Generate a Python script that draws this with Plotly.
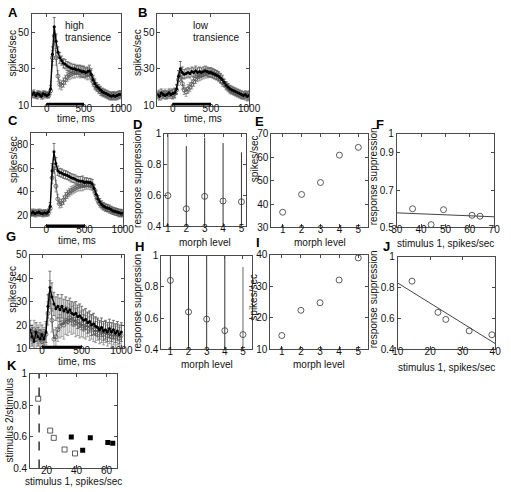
import plotly.graph_objects as go

# ---------------- data ----------------
t = [-200, -175, -150, -125, -100, -75, -50, -25, 0, 25, 50, 75, 100, 125, 150, 175,
     200, 225, 250, 275, 300, 325, 350, 375, 400, 425, 450, 475, 500, 525, 550, 575,
     600, 625, 650, 675, 700, 725, 750, 775, 800, 825, 850, 875, 900, 925, 950, 975, 1000]

# Panel A (high transience cell)
A_s1 = [16, 17, 15.5, 16.5, 16, 15, 16.5, 16, 15.5, 16, 19, 38, 53, 45, 39, 36,
        34.5, 33, 32.5, 31.5, 31, 30.5, 30, 30, 29.5, 29.5, 29, 28.5, 28.5, 28, 28.5, 29,
        27, 24, 22, 20.5, 19.5, 18.5, 17.5, 17, 16.5, 16, 15.5, 15, 15.5, 15, 15.5, 16, 16]
A_s1_err = [1.5, 1.5, 1.5, 1.5, 1.5, 1.5, 1.5, 1.5, 1.5, 1.5, 2, 4, 5, 4, 3, 3,
            2.5, 2.5, 2.5, 2.5, 2.5, 2.5, 2.5, 2.5, 2.5, 2.5, 3, 3, 3, 2.5, 2.5, 3,
            3, 2.5, 2.5, 2, 2, 2, 2, 2, 2, 2, 2, 2, 2, 2, 2, 2, 2]
A_s2 = [16.5, 15.5, 16, 15, 16.5, 16, 15, 16.5, 16, 15.5, 18, 36, 48, 36, 26, 21.5,
        21, 22.5, 24, 25.5, 26.5, 27, 27.5, 28, 28.5, 28.5, 28, 28.5, 28, 27.5, 27, 27.5,
        26, 23, 21, 19.5, 18.5, 17.5, 17, 16.5, 16, 15.5, 15, 15.5, 15, 15.5, 15, 15.5, 16]
A_s2_err = [1.5, 1.5, 1.5, 1.5, 1.5, 1.5, 1.5, 1.5, 1.5, 1.5, 2, 4, 5, 4, 3, 2.5,
            2.5, 2.5, 2.5, 2.5, 2.5, 2.5, 2.5, 3, 3, 3, 3, 3, 3, 3, 3, 3,
            3, 2.5, 2.5, 2, 2, 2, 2, 2, 2, 2, 2, 2, 2, 2, 2, 2, 2]

# Panel B (low transience cell)
B_s1 = [16, 15, 17, 16, 15.5, 16, 17, 16, 16.5, 17, 19, 26, 30, 28, 27, 27.5,
        28, 27.5, 28.5, 28, 29, 28, 28.5, 28, 28.5, 29, 28.5, 28, 28, 27.5, 27, 26.5,
        26, 25, 24, 22.5, 21, 20, 19, 18.5, 18, 17.5, 17, 16.5, 16, 15.5, 16, 15, 15.5]
B_s1_err = [2, 2, 2, 2, 2, 2, 2, 2, 2.5, 2.5, 2.5, 3, 4, 3, 2.5, 2.5,
            2.5, 2.5, 2.5, 2.5, 2.5, 2.5, 2.5, 2.5, 2.5, 2.5, 2.5, 2.5, 2.5, 2.5, 2.5, 2.5,
            2.5, 2.5, 2.5, 2, 2, 2, 2, 2, 2, 2, 2, 2, 2, 2, 2, 2.5, 2.5]
B_s2 = [15.5, 16.5, 15, 16, 17, 15.5, 16, 17, 16, 16.5, 18.5, 24, 27, 22, 18.5, 17.5,
        19, 20, 21.5, 23, 24.5, 25.5, 26, 26.5, 27, 27.5, 27.5, 28, 28, 27.5, 27, 26.5,
        25.5, 24.5, 23, 22, 20.5, 19.5, 18.5, 18, 17.5, 17, 16.5, 16, 15.5, 15.5, 15, 15.5, 15]
B_s2_err = [2, 2, 2, 2, 2, 2, 2, 2, 2.5, 2.5, 2.5, 3, 3.5, 3, 2.5, 2.5,
            2.5, 2.5, 2.5, 2.5, 2.5, 2.5, 2.5, 2.5, 2.5, 2.5, 2.5, 2.5, 2.5, 2.5, 2.5, 2.5,
            2.5, 2.5, 2.5, 2, 2, 2, 2, 2, 2, 2, 2, 2, 2, 2, 2, 2, 2]

# Panel C (population, high transience)
C_s1 = [22, 23, 21.5, 22.5, 23, 22, 21.5, 22.5, 22, 23, 28, 58, 74, 64, 58, 56.5,
        56, 55, 54.5, 54, 53, 52, 51.5, 51, 50, 49.5, 49, 49, 48, 48.5, 48, 48,
        47, 43, 38, 34, 31.5, 29.5, 28, 27, 26.5, 26, 25, 24, 23.5, 23, 22.5, 22, 22]
C_s1_err = [2.5, 2.5, 2.5, 2.5, 2.5, 2.5, 2.5, 2.5, 2.5, 2.5, 3, 6, 7, 5, 4, 3.5,
            3.5, 3.5, 3.5, 3.5, 3.5, 3.5, 3.5, 3.5, 3.5, 3.5, 4, 4.5, 4, 3.5, 3.5, 3.5,
            3.5, 3.5, 3.5, 3, 3, 3, 3, 3, 3, 3, 3, 3, 3, 3, 3, 3, 3]
C_s2 = [23, 22, 23, 21.5, 22, 23, 22.5, 21.5, 22.5, 22, 26, 52, 62, 45, 34, 30,
        30.5, 33, 36, 38, 39.5, 41, 42, 43, 44, 44.5, 45, 45.5, 46, 46, 46, 45.5,
        45, 42, 37, 33, 30, 28.5, 27.5, 26.5, 26, 25, 24.5, 24, 23.5, 23, 22, 22.5, 22]
C_s2_err = [2.5, 2.5, 2.5, 2.5, 2.5, 2.5, 2.5, 2.5, 2.5, 2.5, 3, 5, 6, 5, 4, 3.5,
            3.5, 3.5, 3.5, 3.5, 3.5, 3.5, 3.5, 3.5, 3.5, 3.5, 4, 4.5, 4, 3.5, 3.5, 3.5,
            3.5, 3.5, 3.5, 3, 3, 3, 3, 3, 3, 3, 3, 3, 3, 3, 3, 3, 3]

# Panel G (population, low transience)
G_s1 = [16, 14, 18, 15, 13, 17, 15, 14, 16, 14, 17, 28, 36, 32, 29, 27,
        28, 26.5, 28, 26, 27, 25.5, 26.5, 25, 24.5, 25, 23.5, 24, 23, 22, 22.5, 21,
        21.5, 20, 20.5, 19.5, 19, 18, 19, 17.5, 18, 17, 18.5, 17, 18, 16.5, 17.5, 16, 17]
G_s1_err = [4, 4, 4, 4, 4, 4, 4, 4, 4, 4, 4.5, 5, 7, 6, 5, 5,
            5, 5, 5, 5, 5, 5, 5, 5, 5, 5, 5, 5, 5, 4.5, 4.5, 4.5,
            4.5, 4.5, 4.5, 4, 4, 4, 4, 4, 4, 4, 4, 4, 4, 4, 4, 4, 4]
G_s2 = [15, 17, 14, 16, 18, 14, 16, 17, 13, 15, 16, 25, 33, 22, 14, 15,
        18, 19.5, 21, 20, 22, 21.5, 23, 22, 22.5, 21, 21.5, 20, 20.5, 19.5, 19, 20,
        18.5, 19, 18, 17, 18, 16.5, 17, 16, 17, 15.5, 16.5, 15, 16, 15, 16, 14.5, 15.5]
G_s2_err = [4, 4, 4, 4, 4, 4, 4, 4, 4, 4, 4.5, 5, 6, 5, 4, 4,
            5, 5, 6, 6, 6, 6, 6, 6, 6, 6, 6, 5.5, 5.5, 5, 5, 5,
            5, 5, 5, 4.5, 4.5, 4.5, 4.5, 4.5, 4.5, 4.5, 4.5, 4.5, 4.5, 4.5, 4.5, 4.5, 4.5]

stim_on = [0, 500]          # stimulus presentation period, ms

morph = [1, 2, 3, 4, 5]
# high-transience population (D, E, F)
D_supp = [0.60, 0.515, 0.595, 0.565, 0.56]
D_err = [0.45, 0.405, 0.38, 0.375, 0.32]
E_rate = [36.5, 44.1, 49.2, 60.9, 64.2]
F_fit_x = [30, 70]
F_fit_y = [0.578, 0.557]
# low-transience population (H, I, J)
H_supp = [0.842, 0.64, 0.594, 0.52, 0.495]
H_err = [0.6, 0.6, 0.6, 0.6, 0.433]
I_rate = [14.4, 22.4, 24.8, 32.0, 39.0]
J_fit_x = [10, 40]
J_fit_y = [0.83, 0.438]
K_threshold = [15, 15]
K_thr_y = [0.4, 1.0]

# ---------------- layout helpers ----------------
W, H = 511, 492
FONT = "Liberation Sans"
AX = "#4a4a4a"

boxes = {  # left, right, top, bottom in pixels
    'A': (27, 119, 8, 102), 'B': (157, 252, 8, 102),
    'C': (26, 121, 130, 227), 'D': (164, 249, 131, 226),
    'E': (275, 375, 131, 227), 'F': (405, 506, 131, 227),
    'G': (25, 122, 255, 351), 'H': (161, 255, 256, 352),
    'I': (274, 375, 255, 352), 'J': (406, 507, 257, 352),
    'K': (25, 115, 377, 474),
}
order = ['A', 'B', 'C', 'D', 'E', 'F', 'G', 'H', 'I', 'J', 'K']
axn = {p: (i + 1) for i, p in enumerate(order)}

fig = go.Figure()


def xa(p):
    return 'x' if axn[p] == 1 else f'x{axn[p]}'


def ya(p):
    return 'y' if axn[p] == 1 else f'y{axn[p]}'


def add_time(p, s1, e1, s2, e2):
    fig.add_trace(go.Scatter(x=t, y=s2, mode='lines+markers', xaxis=xa(p), yaxis=ya(p),
                             line=dict(color='#444444', width=0.8),
                             marker=dict(symbol='circle-open', size=4, color='#555555', line=dict(width=0.8)),
                             error_y=dict(type='data', array=e2, color='#8c8c8c', thickness=0.8, width=1.5),
                             showlegend=False))
    fig.add_trace(go.Scatter(x=t, y=s1, mode='lines+markers', xaxis=xa(p), yaxis=ya(p),
                             line=dict(color='#000000', width=1.3),
                             marker=dict(symbol='circle', size=3, color='#000000'),
                             error_y=dict(type='data', array=e1, color='#555555', thickness=0.8, width=1.5),
                             showlegend=False))
    fig.add_shape(type='rect', xref=xa(p), yref=ya(p) + ' domain', x0=stim_on[0], x1=stim_on[1],
                  y0=0.0, y1=0.03, fillcolor='black', line=dict(width=0))


add_time('A', A_s1, A_s1_err, A_s2, A_s2_err)
add_time('B', B_s1, B_s1_err, B_s2, B_s2_err)
add_time('C', C_s1, C_s1_err, C_s2, C_s2_err)
add_time('G', G_s1, G_s1_err, G_s2, G_s2_err)


def add_supp(p, vals, errs, gray_idx):
    for i in range(len(morph)):
        gray = i in gray_idx
        fig.add_trace(go.Scatter(x=[morph[i]], y=[vals[i]], mode='markers', xaxis=xa(p), yaxis=ya(p),
                                 marker=dict(symbol='circle-open', size=6, color='#333333', line=dict(width=0.8)),
                                 error_y=dict(type='data', array=[errs[i]],
                                              color='#a0a0a0' if gray else '#333333',
                                              thickness=1.6 if gray else 1, width=0),
                                 showlegend=False))


add_supp('D', D_supp, D_err, [0])
add_supp('H', H_supp, H_err, [4])

for p, vals in (('E', E_rate), ('I', I_rate)):
    fig.add_trace(go.Scatter(x=morph, y=vals, mode='markers', xaxis=xa(p), yaxis=ya(p),
                             marker=dict(symbol='circle-open', size=6, color='#333333', line=dict(width=0.8)),
                             showlegend=False))

for p, xs, ys, fx, fy in (('F', E_rate, D_supp, F_fit_x, F_fit_y), ('J', I_rate, H_supp, J_fit_x, J_fit_y)):
    fig.add_trace(go.Scatter(x=fx, y=fy, mode='lines', xaxis=xa(p), yaxis=ya(p),
                             line=dict(color='#444444', width=1), showlegend=False))
    fig.add_trace(go.Scatter(x=xs, y=ys, mode='markers', xaxis=xa(p), yaxis=ya(p),
                             marker=dict(symbol='circle-open', size=6, color='#333333', line=dict(width=0.8)),
                             showlegend=False))

fig.add_trace(go.Scatter(x=K_threshold, y=K_thr_y, mode='lines', xaxis=xa('K'), yaxis=ya('K'),
                         line=dict(color='black', width=1.2, dash='dash'), showlegend=False))
fig.add_trace(go.Scatter(x=I_rate, y=H_supp, mode='markers', xaxis=xa('K'), yaxis=ya('K'),
                         marker=dict(symbol='square-open', size=5, color='#333333', line=dict(width=0.8)),
                         showlegend=False))
fig.add_trace(go.Scatter(x=E_rate, y=D_supp, mode='markers', xaxis=xa('K'), yaxis=ya('K'),
                         marker=dict(symbol='square', size=5, color='black'),
                         showlegend=False))

# axis settings: (xrange, xticks, yrange, yticks)
axcfg = {
    'A': ([-200, 1000], [0, 500, 1000], [10, 60], [10, 30, 50]),
    'B': ([-200, 1000], [0, 500, 1000], [10, 60], [10, 30, 50]),
    'C': ([-200, 1000], [0, 500, 1000], [10, 90], [20, 40, 60, 80]),
    'D': ([0.8, 5.26], [1, 2, 3, 4, 5], [0.4, 1.0], [0.4, 0.6, 0.8, 1]),
    'E': ([0.4, 5.5], [1, 2, 3, 4, 5], [30, 70], [30, 40, 50, 60, 70]),
    'F': ([30, 70], [30, 40, 50, 60, 70], [0.5, 1.0], [0.5, 0.7, 0.9, 1]),
    'G': ([-150, 1030], [0, 500, 1000], [10, 50], [10, 20, 30, 40, 50]),
    'H': ([0.5, 5.5], [1, 2, 3, 4, 5], [0.4, 1.0], [0.4, 0.6, 0.8, 1]),
    'I': ([0.4, 5.5], [1, 2, 3, 4, 5], [10, 40], [10, 20, 30, 40]),
    'J': ([10, 40], [10, 20, 30, 40], [0.4, 1.0], [0.4, 0.6, 0.8, 1]),
    'K': ([9, 67], [20, 40, 60], [0.4, 1.0], [0.4, 0.6, 0.8, 1]),
}

common = dict(showline=True, linecolor=AX, linewidth=1, mirror='allticks', ticks='inside',
              ticklen=3, tickcolor=AX, showgrid=False, zeroline=False,
              tickfont=dict(family=FONT, size=10, color='#111111'))

lay = {}
for p in order:
    l, r, tp, b = boxes[p]
    xr, xt, yr, yt = axcfg[p]
    n = axn[p]
    kx = 'xaxis' if n == 1 else f'xaxis{n}'
    ky = 'yaxis' if n == 1 else f'yaxis{n}'
    lay[kx] = dict(domain=[l / W, r / W], range=xr, tickvals=xt, anchor=ya(p), ticklabelstandoff=-7, **common)
    lay[ky] = dict(domain=[1 - b / H, 1 - tp / H], range=yr, tickvals=yt, anchor=xa(p), ticklabelstandoff=0, **common)
fig.update_layout(**lay)

ann = []
letters = {'A': (7, 7), 'B': (141, 7), 'C': (7, 117), 'D': (136, 121), 'E': (263, 118), 'F': (388, 121),
           'G': (5, 236), 'H': (138, 247), 'I': (261, 242), 'J': (394, 247), 'K': (6, 368)}
for k, (x, y) in letters.items():
    ann.append(dict(text=f'<b>{k}</b>', x=x / W, y=1 - y / H, xref='paper', yref='paper',
                    xanchor='center', yanchor='middle', showarrow=False,
                    font=dict(family=FONT, size=13, color='black')))


def txt(s, x, y, angle=0, size=10, xanchor='center'):
    ann.append(dict(text=s, x=x / W, y=1 - y / H, xref='paper', yref='paper', textangle=angle,
                    xanchor=xanchor, yanchor='middle', showarrow=False,
                    font=dict(family=FONT, size=size, color='#111111')))


# axis titles
for p, yc in (('A', 115), ('B', 115), ('C', 240), ('G', 364)):
    l, r, _, _ = boxes[p]
    txt('time, ms', (l + r) / 2, yc)
for p, yc in (('D', 242), ('E', 242), ('H', 367), ('I', 367)):
    l, r, _, _ = boxes[p]
    txt('morph level', (l + r) / 2, yc)
for p, yc in (('F', 243), ('J', 371), ('K', 487)):
    l, r, _, _ = boxes[p]
    txt('stimulus 1, spikes/sec', (l + r) / 2, yc)
txt('spikes/sec', 7, 48, -90)
txt('spikes/sec', 137, 48, -90)
txt('spikes/sec', 7, 157, -90)
txt('spikes/sec', 7, 290, -90)
txt('spikes/sec', 257, 156, -90)
txt('spikes/sec', 257, 298, -90)
txt('response suppression', 136, 177, -90)
txt('response suppression', 136, 304, -90)
txt('response suppression', 381, 175, -90)
txt('response suppression', 381, 301, -90)
txt('stimulus 2/stimulus', 4, 425, -90)
# panel notes
txt('high', 59, 20, xanchor='left')
txt('transience', 59, 32, xanchor='left')
txt('low', 192, 20, xanchor='left')
txt('transience', 192, 32, xanchor='left')

fig.update_layout(annotations=ann, width=W, height=H, margin=dict(l=0, r=0, t=0, b=0),
                  paper_bgcolor='white', plot_bgcolor='white', showlegend=False,
                  font=dict(family=FONT, size=10, color='#111111'))

fig.write_html("out.html", config={'displayModeBar': False},
               post_script="document.body.style.margin='0';document.body.style.overflow='hidden';")
